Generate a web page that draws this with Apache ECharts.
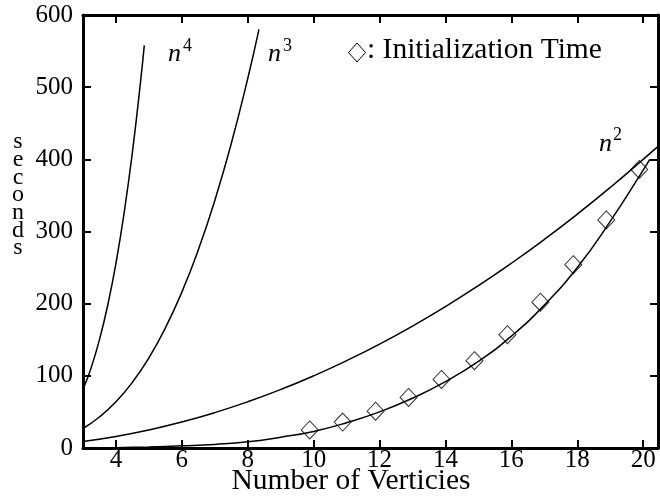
<!DOCTYPE html>
<html>
<head>
<meta charset="utf-8">
<script src="https://cdn.jsdelivr.net/npm/echarts@6/dist/echarts.min.js"></script>
<style>html,body{margin:0;padding:0;background:#fff}#c{width:660px;height:499px}</style>
</head>
<body>
<div id="c"></div>
<script>
// ----- data -----
const xTicks = [4, 6, 8, 10, 12, 14, 16, 18, 20];
const yTicks = [0, 100, 200, 300, 400, 500, 600];

const n4X = [3, 3.25, 3.5, 3.75, 4, 4.25, 4.5, 4.75, 4.86];
const n4Y = [81, 111.6, 150.1, 197.8, 256, 326.3, 410.1, 509.1, 558];

const n3X = [3, 3.5, 4, 4.5, 5, 5.5, 6, 6.5, 7, 7.5, 8, 8.34];
const n3Y = [27, 42.9, 64, 91.1, 125, 166.4, 216, 274.6, 343, 421.9, 512, 580];

const n2X = [3, 4, 5, 6, 7, 8, 9, 10, 11, 12, 13, 14, 15, 16, 17, 18, 19, 20, 20.45];
const n2Y = [9, 16, 25, 36, 49, 64, 81, 100, 121, 144, 169, 196, 225, 256, 289, 324, 361, 400, 418];

const fitX = [3, 4, 5, 6, 7, 8, 9, 10, 11, 12, 13, 14, 15, 16, 17, 18, 19, 20, 20.2];
const fitY = [0, 0.5, 1.5, 3, 5, 8.5, 15, 23, 35, 50, 69, 92, 120, 155, 198, 250, 314, 385, 400];

const initX = [9.88, 10.88, 11.88, 12.88, 13.88, 14.88, 15.88, 16.88, 17.88, 18.88, 19.88];
const initY = [25, 36, 51, 70, 95, 121, 157, 202, 254, 316, 386];

const xTitle = 'Number of Verticies';
const yTitle = 'seconds';
const legendText = ': Initialization Time';

// ----- chart -----
const zip = (a, b) => a.map((v, i) => [v, b[i]]);
const FONT = 'Liberation Serif';
const lineStyle = { color: '#000', width: 1.5 };

const chart = echarts.init(document.getElementById('c'), null, { renderer: 'canvas' });

const axisCommon = {
  type: 'value',
  splitLine: { show: false },
  axisLine: { show: true, onZero: false, lineStyle: { color: '#000', width: 3 } },
  axisTick: { show: true, inside: true, length: 8, lineStyle: { color: '#000', width: 2 } }
};

chart.setOption({
  animation: false,
  backgroundColor: '#fff',
  grid: { left: 83, right: 2, top: 15, bottom: 51 },
  xAxis: [
    Object.assign({}, axisCommon, {
      position: 'bottom', min: 3, max: 20.45, interval: 2,
      axisTick: Object.assign({}, axisCommon.axisTick, { customValues: xTicks }),
      axisLabel: { customValues: xTicks, color: '#000', fontFamily: FONT, fontSize: 25, margin: 0 }
    }),
    Object.assign({}, axisCommon, {
      position: 'top', min: 3, max: 20.45,
      axisTick: Object.assign({}, axisCommon.axisTick, { customValues: xTicks }),
      axisLabel: { show: false }
    })
  ],
  yAxis: [
    Object.assign({}, axisCommon, {
      position: 'left', min: 0, max: 600, interval: 100,
      axisTick: Object.assign({}, axisCommon.axisTick, { customValues: yTicks }),
      axisLabel: { customValues: yTicks, color: '#000', fontFamily: FONT, fontSize: 25, margin: 10 }
    }),
    Object.assign({}, axisCommon, {
      position: 'right', min: 0, max: 600, interval: 100,
      axisTick: Object.assign({}, axisCommon.axisTick, { customValues: yTicks }),
      axisLabel: { show: false }
    })
  ],
  series: [
    { type: 'line', data: zip(n4X, n4Y), smooth: true, showSymbol: false, lineStyle, z: 3 },
    { type: 'line', data: zip(n3X, n3Y), smooth: true, showSymbol: false, lineStyle, z: 3 },
    { type: 'line', data: zip(n2X, n2Y), smooth: true, showSymbol: false, lineStyle, z: 3 },
    { type: 'line', data: zip(fitX, fitY), smooth: true, showSymbol: false, lineStyle, z: 3 },
    { type: 'scatter', data: zip(initX, initY), symbol: 'diamond', symbolSize: [17, 18],
      itemStyle: { color: 'rgba(255,255,255,0)', borderColor: '#000', borderWidth: 1 }, z: 4 }
  ],
  graphic: [
    { type: 'text', x: 168, y: 54, style: { text: 'n', font: 'italic 26px "Liberation Serif"', fill: '#000', textVerticalAlign: 'middle' } },
    { type: 'text', x: 183, y: 46, style: { text: '4', font: '18px "Liberation Serif"', fill: '#000', textVerticalAlign: 'middle' } },
    { type: 'text', x: 268, y: 54, style: { text: 'n', font: 'italic 26px "Liberation Serif"', fill: '#000', textVerticalAlign: 'middle' } },
    { type: 'text', x: 283, y: 46, style: { text: '3', font: '18px "Liberation Serif"', fill: '#000', textVerticalAlign: 'middle' } },
    { type: 'text', x: 599, y: 144, style: { text: 'n', font: 'italic 26px "Liberation Serif"', fill: '#000', textVerticalAlign: 'middle' } },
    { type: 'text', x: 613, y: 135, style: { text: '2', font: '18px "Liberation Serif"', fill: '#000', textVerticalAlign: 'middle' } },
    { type: 'polygon', shape: { points: [[357, 43], [365.5, 52.5], [357, 62], [348.5, 52.5]] }, style: { fill: 'none', stroke: '#000', lineWidth: 1 } },
    { type: 'text', x: 367, y: 50, style: { text: legendText, font: '29.5px "Liberation Serif"', fill: '#000', textVerticalAlign: 'middle' } },
    { type: 'text', x: 351, y: 481, style: { text: xTitle, font: '29.5px "Liberation Serif"', fill: '#000', textAlign: 'center', textVerticalAlign: 'middle' } },
    { type: 'text', x: 18, y: 133, style: { text: yTitle.split('').join('\n'), font: '24px "Liberation Serif"', lineHeight: 17.7, fill: '#000', textAlign: 'center', textVerticalAlign: 'top' } }
  ]
});
</script>
</body>
</html>
